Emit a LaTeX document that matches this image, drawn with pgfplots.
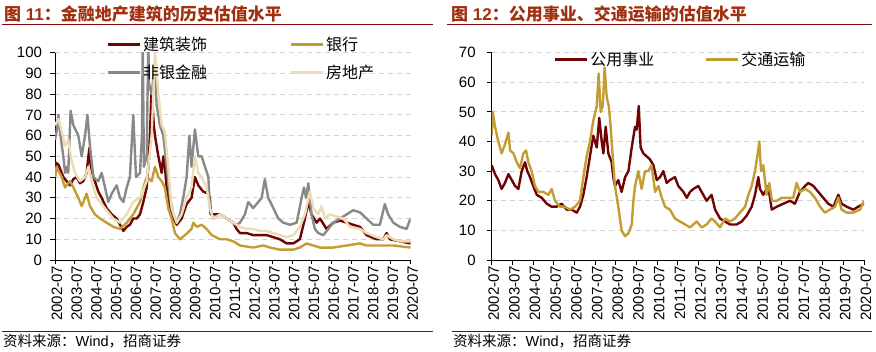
\documentclass[border=0pt]{standalone}
\usepackage{fontspec}
\setmainfont{Liberation Sans}
\newfontfamily\cjk{Noto Sans CJK SC}
\usepackage{pgfplots}
\pgfplotsset{compat=1.18}
\definecolor{maroon}{RGB}{112,4,4}
\definecolor{goldc}{RGB}{196,156,52}
\definecolor{grayc}{RGB}{137,137,137}
\definecolor{beige}{RGB}{236,220,180}
\definecolor{titlered}{RGB}{160,48,16}
\definecolor{linered}{RGB}{128,10,10}
\definecolor{gridc}{RGB}{212,212,212}
\pgfplotsset{
  myax/.style={
    scale only axis, height=207.3pt,
    xmin=0, xmax=18, ymin=0,
    axis x line=bottom, axis y line=left,
    x axis line style={-, line width=0.9pt}, y axis line style={-, line width=0.9pt},
    tick align=outside, major tick length=4.5pt,
    tick style={black, line width=0.9pt},
    xtick={0,...,18},
    xticklabels={2002-07,2003-07,2004-07,2005-07,2006-07,2007-07,2008-07,2009-07,2010-07,2011-07,2012-07,2013-07,2014-07,2015-07,2016-07,2017-07,2018-07,2019-07,2020-07},
    /pgf/number format/assume math mode=true,
    tick label style={font=\fontsize{15}{15}\selectfont},
    xticklabel style={rotate=90, anchor=east, inner sep=1pt, yshift=-2pt},
    ymajorgrids, major grid style={gridc, dash pattern=on 5pt off 4pt, line width=0.9pt},
    legend image code/.code={\draw[##1, line width=3pt] (0pt,0pt) -- (32pt,0pt);},
    every axis plot/.append style={line width=2.4pt, line join=round},
  }
}
\begin{document}
\begin{tikzpicture}[x=1pt,y=1pt]
\path[use as bounding box] (0,0) rectangle (876,351);
% titles
\node[anchor=west, inner sep=0pt, text=titlered] at (4,337) {\fontsize{17}{17}\selectfont{\cjk\bfseries 图}\ \textbf{11}{\cjk\bfseries ：金融地产建筑的历史估值水平}};
\node[anchor=west, inner sep=0pt, text=titlered] at (451,337) {\fontsize{17}{17}\selectfont{\cjk\bfseries 图}\ \textbf{12}{\cjk\bfseries ：公用事业、交通运输的估值水平}};
\draw[linered, line width=1pt] (2,326) -- (433,326);
\draw[linered, line width=1pt] (447,326) -- (872,326);
\draw[linered, line width=1pt] (2,20) -- (433,20);
\draw[linered, line width=1pt] (452,20) -- (872,20);
\node[anchor=west, inner sep=0pt] at (3,9.5) {\fontsize{14.5}{14.5}\selectfont{\cjk 资料来源：}Wind{\cjk ，招商证券}};
\node[anchor=west, inner sep=0pt] at (453,9.5) {\fontsize{14.5}{14.5}\selectfont{\cjk 资料来源：}Wind{\cjk ，招商证券}};

\begin{axis}[myax, at={(55pt,91pt)}, anchor=south west, width=355.7pt,
  ymax=100, ytick={0,10,...,100},
  yticklabel style={xshift=-5pt},
  legend columns=2,
  legend style={at={(rel axis cs:0.143,1.085)}, anchor=north west, draw=none, fill=none,
    inner sep=0pt, font=\cjk\fontsize{16}{16}\selectfont, row sep=9pt,
    /tikz/every even column/.append style={column sep=80pt}},
  legend cell align=left]
\addplot[maroon] table {
0.00 40
0.04 47
0.17 46
0.34 42
0.42 40
0.59 38
0.76 36
0.93 39
1.10 40
1.26 37
1.43 38
1.60 42
1.69 50
1.74 54
1.80 46
1.94 40
2.02 38
2.19 33
2.36 30
2.61 25
2.87 22
3.12 20
3.29 17
3.46 14
3.63 16
3.79 17
3.96 20
4.13 20
4.30 22
4.47 28
4.64 35
4.76 50
4.89 82
5.00 65
5.06 60
5.23 50
5.40 42
5.48 50
5.56 45
5.65 35
5.73 30
5.90 22
6.16 17
6.41 20
6.66 27
6.91 30
7.08 40
7.25 36
7.50 33
7.76 32
7.84 30
7.88 22
8.01 22
8.35 22
8.68 20
9.02 18
9.19 15
9.36 13
9.70 13
10.03 12
10.37 12
10.71 12
11.05 11
11.38 10
11.72 8
12.06 8
12.39 10
12.65 20
12.82 28
12.98 22
13.24 18
13.41 20
13.74 15
14.08 18
14.42 19
14.76 18
15.09 17
15.43 16
15.77 12
16.27 10
16.61 10
16.78 13
16.95 10
17.45 9
17.99 8
};
\addlegendentry{建筑装饰}
\addplot[goldc] table {
0.00 40
0.08 45
0.17 43
0.34 40
0.51 35
0.67 37
0.76 38
0.93 35
1.18 30
1.35 26
1.52 30
1.60 32
1.77 26
2.02 22
2.28 20
2.61 18
2.95 16
3.29 15
3.63 18
3.96 22
4.30 28
4.47 35
4.64 40
4.89 38
5.06 45
5.23 40
5.40 38
5.56 35
5.73 25
5.90 20
6.07 13
6.32 10
6.58 12
6.91 15
7.00 18
7.17 16
7.42 17
7.67 15
7.93 12
8.35 10
8.68 10
9.02 9
9.36 7
10.03 6
10.54 7
10.88 6
11.38 5
12.06 5
12.39 6
12.73 8
13.07 7
13.41 6
14.08 6
14.76 7
15.43 8
15.77 7
16.44 7
17.12 7
17.99 6
};
\addlegendentry{银行}
\addplot[grayc] table {
0.00 58
0.08 62
0.17 70
0.25 62
0.42 50
0.51 42
0.59 45
0.67 42
0.79 72
0.93 65
1.18 60
1.35 50
1.52 60
1.64 70
1.77 55
1.94 40
2.19 38
2.36 42
2.53 35
2.70 28
2.87 32
3.12 36
3.29 30
3.46 28
3.63 35
3.79 40
3.96 70
4.10 40
4.30 42
4.40 60
4.44 105
4.50 45
4.64 50
4.72 105
4.76 85
4.89 80
5.06 95
5.14 75
5.31 65
5.48 60
5.65 45
5.82 30
5.99 22
6.16 18
6.32 22
6.49 30
6.66 40
6.80 60
6.91 45
7.08 63
7.25 50
7.42 50
7.59 45
7.76 40
7.84 25
8.01 20
8.35 22
8.68 20
9.02 18
9.19 17
9.36 18
9.61 22
9.78 28
10.03 25
10.29 28
10.46 30
10.62 39
10.79 30
11.05 25
11.30 20
11.55 18
11.89 17
12.23 18
12.48 30
12.60 35
12.70 30
12.82 37
12.98 22
13.15 15
13.32 13
13.58 12
13.83 15
14.08 18
14.42 20
14.76 22
15.09 24
15.43 23
15.77 20
16.10 17
16.44 17
16.69 27
16.86 22
17.12 18
17.45 16
17.79 15
17.99 20
};
\addlegendentry{非银金融}
\addplot[beige] table {
0.00 65
0.17 68
0.34 62
0.51 55
0.67 58
0.84 48
1.01 42
1.26 38
1.52 40
1.69 45
1.85 38
2.11 30
2.36 27
2.61 24
2.95 20
3.29 18
3.63 22
3.96 28
4.30 30
4.64 38
4.89 60
5.06 100
5.23 80
5.40 65
5.56 62
5.73 45
5.90 25
6.16 18
6.41 22
6.66 30
6.91 35
7.08 50
7.25 42
7.42 40
7.67 35
7.84 25
8.01 20
8.35 22
8.68 20
9.02 18
9.36 16
9.70 15
10.03 15
10.37 14
10.71 14
11.05 13
11.38 12
11.72 11
12.06 12
12.39 16
12.65 22
12.90 33
13.07 25
13.32 22
13.49 26
13.66 20
13.91 22
14.25 21
14.59 20
14.92 16
15.43 15
15.77 13
16.27 11
16.61 10
16.78 12
17.12 10
17.45 9
17.99 9
};
\addlegendentry{房地产}
\end{axis}

\begin{axis}[myax, at={(491.7pt,91pt)}, anchor=south west, width=372.3pt,
  ymax=70, ytick={0,10,...,70},
  yticklabel style={xshift=-8pt},
  legend columns=2,
  legend style={at={(rel axis cs:0.165,1.013)}, anchor=north west, draw=none, fill=none,
    inner sep=0pt, font=\cjk\fontsize{16}{16}\selectfont,
    /tikz/every even column/.append style={column sep=48pt}},
  legend cell align=left]
\addplot[maroon] table {
0.00 32
0.16 29
0.32 27
0.48 24
0.64 26
0.81 29
0.97 27
1.13 25
1.29 24
1.45 30
1.61 33
1.72 30
1.85 28
2.01 25
2.18 22
2.42 21
2.66 19
2.90 18
3.14 18
3.38 19
3.63 17
3.87 17
4.11 16
4.27 18
4.43 22
4.59 28
4.75 35
4.91 42
5.08 38
5.20 48
5.32 40
5.40 36
5.51 45
5.64 36
5.80 33
5.88 28
5.96 25
6.12 27
6.28 23
6.45 28
6.61 30
6.77 38
6.93 45
7.01 44
7.11 52
7.20 38
7.33 36
7.49 35
7.65 34
7.82 32
7.98 27
8.14 28
8.30 30
8.46 26
8.62 27
8.86 28
9.02 25
9.27 23
9.43 21
9.59 23
9.75 24
9.99 25
10.15 23
10.39 20
10.63 22
10.80 17
11.04 14
11.28 13
11.52 12
11.84 12
12.09 13
12.33 15
12.57 18
12.73 22
12.89 28
12.97 24
13.13 22
13.37 25
13.54 17
13.78 18
14.10 19
14.42 20
14.66 19
14.90 23
15.15 25
15.31 26
15.55 25
15.79 23
16.03 21
16.27 19
16.52 18
16.76 22
16.92 19
17.16 18
17.48 17
17.72 18
18.00 19
};
\addlegendentry{公用事业}
\addplot[goldc] table {
0.00 42
0.05 50
0.16 45
0.32 40
0.48 36
0.64 39
0.81 43
0.89 37
1.05 36
1.21 33
1.37 31
1.53 36
1.66 37
1.77 33
1.93 30
2.09 25
2.26 23
2.50 23
2.74 22
2.90 24
3.06 20
3.30 18
3.54 18
3.79 17
4.03 18
4.27 20
4.43 28
4.59 35
4.75 40
4.91 47
5.08 52
5.17 63
5.27 50
5.37 52
5.46 65
5.56 55
5.66 52
5.75 45
5.85 35
5.96 25
6.12 18
6.28 10
6.45 8
6.61 9
6.77 12
6.85 20
6.93 25
7.09 30
7.25 24
7.41 30
7.57 30
7.73 32
7.90 23
8.06 25
8.22 21
8.38 18
8.62 17
8.86 14
9.10 13
9.35 12
9.59 11
9.91 13
10.15 11
10.39 12
10.63 14
10.80 13
11.04 11
11.28 14
11.52 13
11.76 14
12.00 16
12.25 18
12.41 22
12.57 25
12.73 30
12.84 35
12.94 40
13.02 30
13.13 32
13.29 22
13.42 26
13.55 20
13.78 20
14.02 21
14.26 21
14.58 21
14.74 26
14.90 23
15.15 24
15.39 23
15.63 21
15.87 18
16.11 16
16.35 17
16.60 18
16.76 21
16.92 17
17.16 16
17.48 16
17.81 17
18.00 20
};
\addlegendentry{交通运输}
\end{axis}
\end{tikzpicture}
\end{document}
